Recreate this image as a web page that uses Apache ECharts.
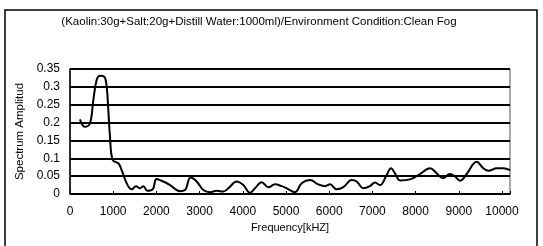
<!DOCTYPE html>
<html>
<head>
<meta charset="utf-8">
<script src="https://cdn.jsdelivr.net/npm/echarts@6/dist/echarts.min.js"></script>
<style>
    html, body { margin: 0; padding: 0; background: #fff; }
    #main { width: 543px; height: 246px; }
</style>
</head>
<body>
<div id="main"></div>
<script>
// 频率 (kHZ)
var freq = [230, 347, 463, 540, 617, 694, 795, 849, 887, 926, 988, 1119, 1196, 1312, 1427, 1528,
    1620, 1697, 1790, 1914, 2006, 2160, 2315, 2546, 2662, 2793, 2932, 3086, 3241, 3395, 3549,
    3665, 3858, 4012, 4167, 4282, 4437, 4591, 4745, 4900, 5015, 5208, 5363, 5556, 5748, 5903,
    6019, 6173, 6327, 6520, 6636, 6790, 6944, 7060, 7176, 7315, 7431, 7523, 7639, 7870, 8102,
    8333, 8488, 8627, 8796, 8912, 9028, 9182, 9414, 9568, 9684, 9877, 10031, 10185];
// 幅值
var amplitude = [0.209, 0.188, 0.198, 0.263, 0.319, 0.331, 0.328, 0.30, 0.235, 0.16, 0.095, 0.086,
    0.067, 0.030, 0.013, 0.022, 0.016, 0.022, 0.009, 0.013, 0.042, 0.035, 0.025, 0.008, 0.011,
    0.046, 0.035, 0.011, 0.005, 0.009, 0.007, 0.016, 0.035, 0.025, 0.003, 0.016, 0.033, 0.019,
    0.027, 0.022, 0.016, 0.005, 0.030, 0.039, 0.027, 0.022, 0.027, 0.013, 0.019, 0.039, 0.035,
    0.016, 0.022, 0.032, 0.025, 0.049, 0.072, 0.058, 0.038, 0.041, 0.056, 0.072, 0.058, 0.044,
    0.056, 0.049, 0.037, 0.056, 0.090, 0.072, 0.065, 0.072, 0.072, 0.067];
var titleText = "(Kaolin:30g+Salt:20g+Distill Water:1000ml)/Environment Condition:Clean Fog";

(function () {
    var myChart = echarts.init(document.getElementById("main"));
    var points = freq.map(function (f, i) { return [f, amplitude[i]]; });
    var font = "Liberation Sans";
    var option = {
        animation: false,
        backgroundColor: "#fff",
        title: {
            text: titleText,
            left: 254,
            textAlign: "center",
            top: 11,
            textStyle: { fontFamily: font, fontSize: 11.5, fontWeight: "normal", color: "#000" }
        },
        // 外框
        graphic: [{
            type: "rect",
            shape: { x: 5, y: 10, width: 532, height: 245 },
            style: { fill: null, stroke: "#000", lineWidth: 1.5 }
        }],
        grid: {
            left: 70, right: 33, top: 69, bottom: 52,
            show: true,
            borderColor: "#555",
            borderWidth: 1
        },
        xAxis: {
            type: "value",
            min: 0,
            max: 10185,
            interval: 1000,
            name: "Frequency[kHZ]",
            nameLocation: "middle",
            nameGap: 28,
            nameTextStyle: { fontFamily: font, fontSize: 11, color: "#000" },
            axisLine: { lineStyle: { color: "#000", width: 1.5 } },
            axisTick: { inside: true, length: 3, lineStyle: { color: "#000" } },
            axisLabel: {
                margin: 12,
                fontFamily: font,
                fontSize: 12,
                color: "#000",
                formatter: function (v) { return v % 1000 === 0 ? String(v) : ""; }
            },
            splitLine: { show: false }
        },
        yAxis: {
            type: "value",
            min: 0,
            max: 0.35,
            interval: 0.05,
            name: "Spectrum Amplitud",
            nameLocation: "middle",
            nameGap: 38,
            nameTextStyle: { fontFamily: font, fontSize: 11.5, color: "#000" },
            axisLine: { show: true, lineStyle: { color: "#000", width: 1.5 } },
            axisTick: { show: false },
            axisLabel: {
                margin: 10,
                fontFamily: font,
                fontSize: 12,
                color: "#000",
                formatter: function (v) { return String(+v.toFixed(2)); }
            },
            splitLine: { lineStyle: { color: "#000", width: 1.8 } }
        },
        series: [{
            type: "line",
            data: points,
            smooth: 0.4,
            showSymbol: false,
            lineStyle: { color: "#000", width: 2 }
        }]
    };
    myChart.setOption(option);
    window.addEventListener("resize", function () {
        myChart.resize();
    });
})();
</script>
</body>
</html>
